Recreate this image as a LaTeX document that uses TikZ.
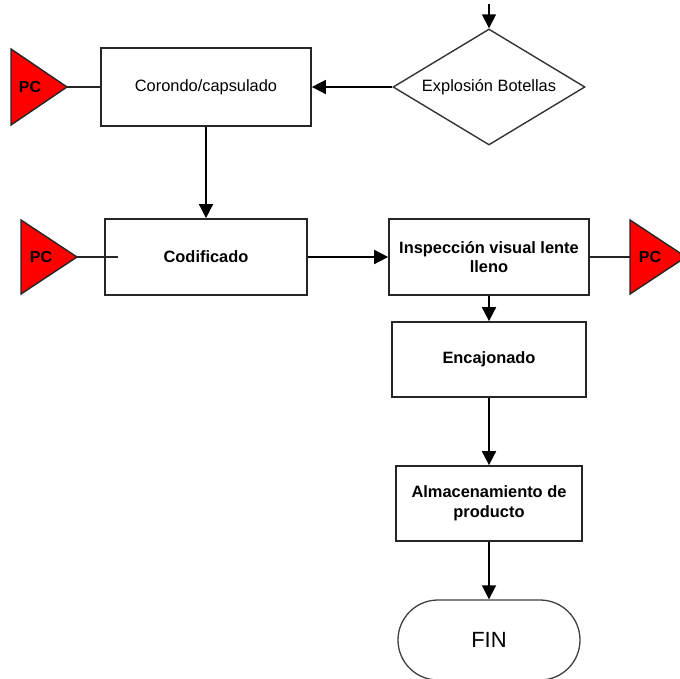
\documentclass[tikz,border=0pt]{standalone}
\usepackage{fontspec}
\setmainfont{Liberation Sans}
\usetikzlibrary{shapes.geometric,arrows.meta}
\begin{document}
\begin{tikzpicture}[x=1pt,y=-1pt,
  every node/.style={font=\fontsize{16.4}{19.5}\selectfont, text=black},
  boldtext/.style={font=\fontsize{16.4}{19.5}\selectfont\bfseries},
  stepbox/.style={draw=black!85, line width=1.7pt, rectangle, inner sep=0pt, align=center},
  decision/.style={draw=black!80, line width=1.4pt, diamond, inner sep=0pt, aspect=1.65,
                   minimum width=192pt, minimum height=116pt},
  terminal/.style={draw=black!75, line width=1.3pt, rectangle, rounded corners=40pt,
                   minimum width=182pt, minimum height=80pt, inner sep=0pt},
  flow/.style={draw=black, line width=1.6pt, -{Triangle[length=14pt,width=14pt]}},
  link/.style={draw=black!85, line width=1.6pt},
  pcflag/.style={draw=black!85, line width=1.4pt, fill=red, line join=miter},
  pclabel/.style={font=\fontsize{16}{19}\selectfont\bfseries, inner sep=0pt}
]
\useasboundingbox (0,0) rectangle (680,679);

% process steps
\node[stepbox, minimum width=210pt, minimum height=78pt] (cor) at (206,87) {Corondo/capsulado};
\node[decision] (exp) at (489,87) {Explosión Botellas};
\node[stepbox, boldtext, minimum width=202pt, minimum height=76pt] (cod) at (206,257) {Codificado};
\node[stepbox, boldtext, minimum width=200pt, minimum height=76pt] (ins) at (489,257) {Inspección visual lente\\lleno};
\node[stepbox, boldtext, minimum width=194pt, minimum height=75pt] (enc) at (489,359.5) {Encajonado};
\node[stepbox, boldtext, minimum width=186pt, minimum height=75pt] (alm) at (489,503.5) {Almacenamiento de\\producto};
\node[terminal, font=\fontsize{22}{26}\selectfont] (fin) at (489,640) {FIN};

% control points (PC)
\draw[pcflag] (11,49) -- (67,87) -- (11,125) -- cycle;
\coordinate (pc1tip) at (67,87);
\node[pclabel] (pc1) at (30,87) {PC};

\draw[pcflag] (21,220) -- (77,257) -- (21,294) -- cycle;
\coordinate (pc2tip) at (77,257);
\node[pclabel] (pc2) at (41,257) {PC};

\draw[pcflag] (630,220) -- (686,257) -- (630,294) -- cycle;
\coordinate (pc3base) at (630,257);
\node[pclabel] (pc3) at (650,257) {PC};

% connectors
\coordinate (incoming) at (489,4);
\coordinate (codin) at (118,257);
\draw[flow] (incoming) -- (exp.north);
\draw[flow] (exp.west) -- (cor.east);
\draw[flow] (cor.south) -- (cod.north);
\draw[flow] (cod.east) -- (ins.west);
\draw[flow] (ins.south) -- (enc.north);
\draw[flow] (enc.south) -- (alm.north);
\draw[flow] (alm.south) -- (fin.north);
\draw[link] (pc1tip) -- (cor.west);
\draw[link] (pc2tip) -- (codin);
\draw[link] (ins.east) -- (pc3base);
\end{tikzpicture}
\end{document}
